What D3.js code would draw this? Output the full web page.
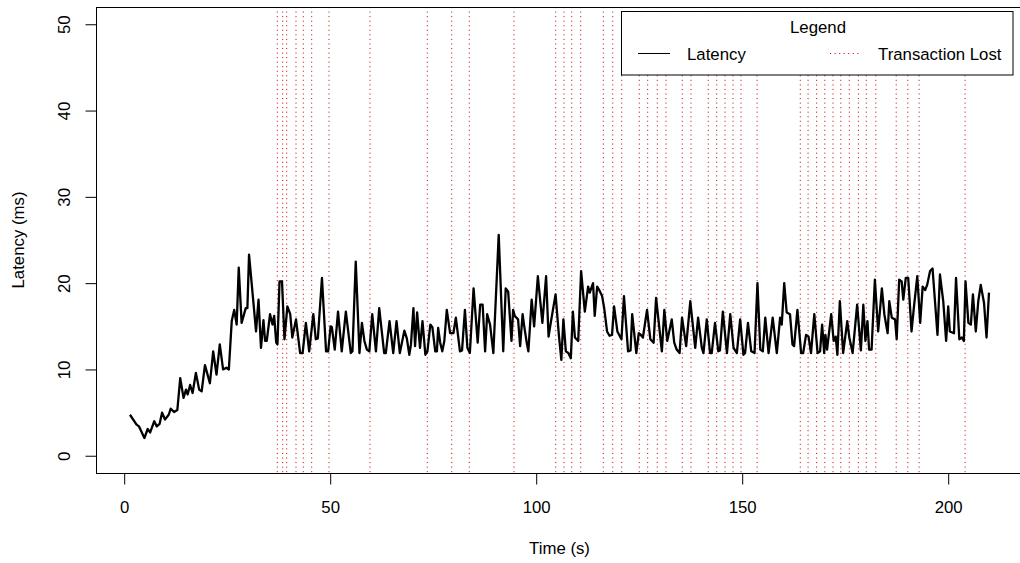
<!DOCTYPE html>
<html>
<head>
<meta charset="utf-8">
<script src="https://cdn.jsdelivr.net/npm/d3@7"></script>
<style>
  html, body { margin: 0; padding: 0; background: #fff; }
  svg { display: block; font-family: "Liberation Sans", Arial, Helvetica, sans-serif; }
</style>
</head>
<body>
<svg id="chart" width="1020" height="563"></svg>
<script>
// ---- data ----
const time = [1.4,3.0,3.6,4.9,5.7,6.3,7.3,7.9,8.6,9.2,9.9,10.8,11.3,12.1,12.9,13.6,14.4,15.0,15.4,16.0,16.6,17.4,18.2,18.8,19.6,20.8,21.6,22.4,23.2,24.0,24.8,25.4,26.1,26.7,27.3,27.8,28.5,29.5,29.9,30.3,32.0,32.6,33.2,33.8,34.2,34.6,35.4,36.0,36.4,36.9,37.2,37.7,38.3,38.9,39.6,40.3,40.8,41.7,42.7,43.3,44.1,44.9,45.9,46.5,47.0,48.0,49.0,49.5,50.1,50.4,51.1,51.9,52.8,53.8,55.0,55.4,56.2,57.1,57.7,58.3,58.9,59.5,60.2,61.1,61.9,63.1,63.5,64.4,65.3,66.1,66.9,68.0,68.6,69.2,69.6,70.2,70.6,71.1,71.8,72.4,73.1,73.6,74.3,74.8,75.5,75.9,76.2,76.7,77.2,77.7,78.3,79.1,79.9,80.5,81.5,82.0,82.7,83.3,83.9,84.8,85.8,86.4,87.0,87.6,88.1,88.8,89.6,90.9,92.0,92.6,93.2,94.0,94.4,94.8,95.6,96.1,96.7,97.1,97.7,98.1,98.9,99.5,100.4,101.5,102.4,103.0,103.6,104.7,105.5,106.1,106.6,107.2,107.8,108.4,108.9,109.4,110.2,110.9,111.8,112.6,113.0,113.8,114.2,114.8,115.4,116.0,116.5,117.2,117.8,118.4,118.9,119.7,120.7,121.3,122.3,122.9,123.3,124.3,124.9,125.4,125.9,126.9,127.7,128.5,129.1,130.5,131.1,131.8,132.9,133.5,134.1,134.8,135.4,136.4,137.4,138.6,139.3,140.2,140.6,141.4,142.2,142.6,143.4,144.2,144.6,145.3,146.3,147.1,147.9,148.7,149.5,150.3,150.7,151.4,152.2,153.0,153.7,154.4,155.0,155.6,156.4,157.4,158.4,159.2,159.6,160.2,160.8,161.6,162.2,162.6,163.4,164.3,164.8,165.5,166.1,166.7,167.5,168.3,168.9,169.4,169.9,170.2,170.6,171.6,172.2,172.7,173.1,173.7,174.5,175.5,176.0,176.8,177.9,178.8,179.4,179.9,180.4,180.8,181.4,182.2,183.0,183.9,184.5,185.3,185.7,186.3,187.1,187.5,188.1,188.7,189.1,189.7,190.3,191.1,191.7,192.5,193.2,193.8,194.4,194.9,195.6,196.2,197.4,198.0,198.8,199.5,200.0,200.4,201.4,201.9,202.7,203.3,203.8,204.2,204.9,205.5,206.0,206.7,207.3,207.9,208.7,209.3,209.9];
const latency = [4.75,3.6,3.4,2.05,3.1,2.7,4.0,3.4,3.7,5.0,4.2,4.75,5.45,5.07,5.3,9.0,6.7,7.66,7.1,8.2,7.27,9.6,7.66,7.46,10.5,8.4,12.1,9.4,12.9,10.0,10.2,10.0,15.6,16.9,15.2,21.8,15.4,17.1,17.1,23.3,14.4,18.1,12.5,15.7,13.3,13.3,16.4,15.2,16.2,13.1,12.9,20.2,20.2,13.5,17.3,16.4,13.7,15.8,11.9,11.9,15.4,12.1,16.4,13.5,13.6,20.6,12.1,12.1,15.0,14.9,12.3,16.7,12.1,16.7,11.9,12.1,22.5,11.9,15.4,13.3,12.3,12.1,16.4,12.1,17.1,11.9,11.9,15.6,11.9,15.6,11.9,14.5,13.6,11.7,12.9,17.1,12.7,16.6,12.5,15.6,11.7,12.1,15.2,14.9,12.1,12.1,14.8,13.1,12.1,13.3,16.9,14.2,14.2,16.0,12.1,12.2,16.9,12.5,11.9,19.4,13.1,17.5,17.5,12.1,16.4,15.2,11.9,25.6,12.1,19.4,19.0,13.3,16.9,16.2,15.8,12.7,16.4,15.0,13.1,12.1,18.1,15.0,20.8,15.4,20.8,13.8,15.6,18.7,14.0,11.1,15.8,12.1,11.9,11.3,16.7,13.7,13.3,21.4,16.7,19.6,18.9,20.0,16.2,19.6,19.1,18.5,17.1,14.4,13.9,14.0,17.3,14.4,13.5,18.5,12.1,12.2,16.4,11.9,14.2,14.0,13.7,16.9,13.5,13.1,18.3,12.1,16.9,13.3,15.8,13.1,12.3,11.9,16.0,12.7,17.9,12.5,16.0,12.5,11.9,15.8,11.9,11.9,15.4,12.1,12.2,16.7,11.9,16.4,12.5,11.9,15.8,11.7,11.9,15.4,12.1,11.9,20.0,12.3,12.1,16.0,11.9,16.0,11.9,16.0,15.2,20.0,16.6,16.4,12.9,12.7,16.9,11.9,11.9,14.0,13.8,11.9,16.4,11.9,12.1,15.2,11.9,14.0,12.3,16.4,13.3,13.8,11.7,17.9,11.9,15.6,13.7,11.9,17.5,12.2,17.5,13.3,15.6,12.3,12.3,20.4,14.4,19.4,16.4,14.2,17.9,16.0,15.8,13.5,20.4,20.2,18.1,20.6,20.6,14.4,17.3,20.8,15.4,19.6,19.2,19.8,21.4,21.7,14.0,21.0,17.9,13.3,17.3,14.4,14.2,20.6,13.5,13.7,13.3,20.2,15.4,15.2,18.7,14.4,17.9,19.8,17.7,13.7,18.9];
const lostTimes = [37.16,38.47,39.44,41.70,43.47,45.51,49.71,59.66,73.57,79.49,83.76,94.61,104.73,106.75,108.62,110.80,116.29,118.57,120.75,125.02,127.06,129.39,131.50,135.46,137.57,141.77,143.81,145.83,147.77,149.71,153.62,164.10,165.99,168.06,170.05,172.04,173.93,176.00,178.20,180.12,182.43,187.38,190.19,192.94,204.10];
const xTicks = [0,50,100,150,200];
const yTicks = [0,10,20,30,40,50];
const legendLabels = ["Latency","Transaction Lost"];

// ---- layout ----
const svg = d3.select("#chart");
const FS = 16.8;
const plot = {left: 96, right: 1023, top: 7, bottom: 473};
const x = d3.scaleLinear().domain([0, 200]).range([124.2, 948.2]);
const y = d3.scaleLinear().domain([-2, 52]).range([plot.bottom, plot.top]);
const lostColor = "#cc1111";

svg.append("defs").append("clipPath").attr("id","clip")
  .append("rect").attr("x",plot.left).attr("y",plot.top)
  .attr("width",plot.right-plot.left).attr("height",plot.bottom-plot.top);

// Transaction lost lines
svg.append("g").attr("clip-path","url(#clip)")
  .selectAll("line").data(lostTimes).join("line")
  .attr("x1", d => x(d)).attr("x2", d => x(d))
  .attr("y1", plot.top).attr("y2", plot.bottom)
  .attr("stroke", lostColor).attr("stroke-width", 1)
  .attr("stroke-dasharray", "1.1,3.45");

// Latency line
const pts = time.map((t,i) => [t, latency[i]]);
svg.append("path").datum(pts)
  .attr("clip-path","url(#clip)")
  .attr("fill","none").attr("stroke","#000").attr("stroke-width",2.3)
  .attr("stroke-linejoin","round")
  .attr("d", d3.line().x(d => x(d[0])).y(d => y(d[1])));

// Box
svg.append("rect").attr("x",plot.left+0.5).attr("y",plot.top+0.5)
  .attr("width",plot.right-plot.left).attr("height",plot.bottom-plot.top)
  .attr("fill","none").attr("stroke","#000").attr("stroke-width",1);

// X axis
const xAxis = d3.axisBottom(x).tickValues(xTicks).tickSize(11).tickPadding(0).tickFormat(d3.format("d"));
const gx = svg.append("g").attr("transform",`translate(0,${plot.bottom+0.5})`).call(xAxis);
gx.select(".domain").remove();
gx.selectAll("line").attr("stroke","#000");
gx.selectAll("text").attr("font-size",FS).attr("fill","#000")
  .attr("font-family","Liberation Sans, Arial, sans-serif")
  .attr("dy",null).attr("y", 39);

// Y axis
const yAxis = d3.axisLeft(y).tickValues(yTicks).tickSize(11).tickFormat(d3.format("d"));
const gy = svg.append("g").attr("transform",`translate(${plot.left+0.5},0)`).call(yAxis);
gy.select(".domain").remove();
gy.selectAll("line").attr("stroke","#000");
gy.selectAll("text").attr("font-size",FS).attr("fill","#000")
  .attr("font-family","Liberation Sans, Arial, sans-serif")
  .attr("x",null).attr("dy",null)
  .attr("text-anchor","middle")
  .attr("transform","translate(-27,0) rotate(-90)");

// Axis titles
svg.append("text").attr("x",(plot.left+plot.right)/2).attr("y",554)
  .attr("text-anchor","middle").attr("font-size",FS).text("Time (s)");
svg.append("text").attr("transform",`translate(24,${(plot.top+plot.bottom)/2}) rotate(-90)`)
  .attr("text-anchor","middle").attr("font-size",FS).text("Latency (ms)");

// Legend
const lg = svg.append("g");
lg.append("rect").attr("x",621.5).attr("y",11.5).attr("width",391.5).attr("height",63.5)
  .attr("fill","#fff").attr("stroke","#000").attr("stroke-width",1);
lg.append("text").attr("x",818).attr("y",33).attr("text-anchor","middle")
  .attr("font-size",FS).text("Legend");
lg.append("line").attr("x1",638).attr("x2",670).attr("y1",53.5).attr("y2",53.5)
  .attr("stroke","#000").attr("stroke-width",1);
lg.append("text").attr("x",687).attr("y",59.5).attr("font-size",FS).text(legendLabels[0]);
lg.append("line").attr("x1",830).attr("x2",860).attr("y1",53.5).attr("y2",53.5)
  .attr("stroke",lostColor).attr("stroke-width",1).attr("stroke-dasharray","1.1,3.45");
lg.append("text").attr("x",878).attr("y",59.5).attr("font-size",FS).text(legendLabels[1]);
</script>
</body>
</html>
